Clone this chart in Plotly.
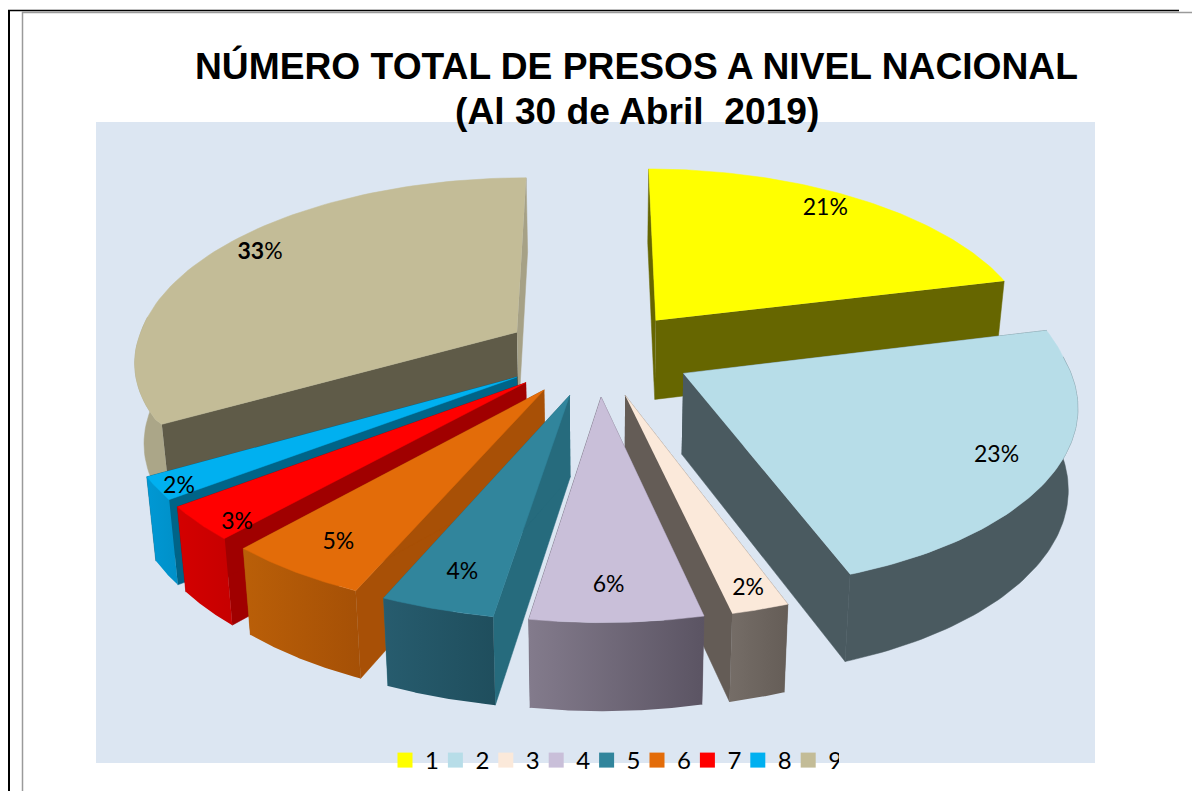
import numpy as np
import plotly.graph_objects as go

# --- data ---
CATEGORIES = ["1", "2", "3", "4", "5", "6", "7", "8", "9"]
PERCENTS = [21, 23, 2, 6, 4, 5, 3, 2, 33]
LABELS = ["21%", "23%", "2%", "6%", "4%", "5%", "3%", "2%", "<b>33</b>%"]
TOP_COLORS = ["#FFFF00", "#B7DDE8", "#FBE9DA", "#C9BFD9", "#31859C", "#E36C09", "#FF0000", "#00B0F0", "#C3BC97"]
WALL_START = ["#666600", "#4A5A60", "#645C56", "#5E5565", "#266B7D", "#A85006", "#A00000", "#006488", "#5F5B48"]
WALL_END = ["#666600", "#4A5A60", "#645C56", "#5E5565", "#266B7D", "#A85006", "#A00000", "#006488", "#A6A186"]
RIM_LEFT = ["#666600", "#4A5A60", "#756D67", "#837B8C", "#275C6E", "#BA5F08", "#D40000", "#0098D4", "#ABA688"]
RIM_RIGHT = ["#666600", "#4A5A60", "#655D57", "#5B5463", "#1F4E5D", "#A55006", "#C60000", "#0090C8", "#ABA688"]
LABEL_RADIUS = [0.90, 0.845, 0.916, 0.86, 0.85, 0.855, 0.935, 0.95, 0.90]
LABEL_ANGLE = [0.457, 0.524, 0.56, 0.55, 0.465, 0.456, 0.15, 0.30, 0.528]
TITLE_LINES = ["NÚMERO TOTAL DE PRESOS A NIVEL NACIONAL", "(Al 30 de Abril \u00a02019)"]

# --- projection of the tilted pie onto the page ---
CX, CY = 600.0, 353.0
RX, RY = 387.0, 177.0
PERSP = 0.15
EXPLODE = 0.24
DEPTH = 80.0
W, H = 1197, 791


def project(x, y):
    s = 1.0 / (1.0 + PERSP * y)
    return CX + RX * x * s, CY - RY * y * s, s


def drop(px, py, s):
    return CX + (px - CX) * 0.98, py + DEPTH * np.sqrt(s)


vals = np.array(PERCENTS, float)
edges = np.concatenate([[0], np.cumsum(vals)]) / vals.sum() * 2 * np.pi

fig = go.Figure()


def poly(xs, ys, color, gradient=None):
    kw = dict(fillcolor=color)
    if gradient and gradient[0] != gradient[1]:
        kw = dict(fillgradient=dict(type="horizontal", colorscale=[[0, gradient[0]], [1, gradient[1]]]))
    fig.add_trace(go.Scatter(x=list(xs), y=list(ys), mode="lines", fill="toself",
                             line=dict(width=0.5 if not gradient or gradient[0] == gradient[1] else 0, color=color),
                             hoverinfo="skip", showlegend=False, **kw))


order = sorted(range(len(vals)), key=lambda i: -np.cos((edges[i] + edges[i + 1]) / 2))
for i in order:
    a0, a1 = edges[i], edges[i + 1]
    b = (a0 + a1) / 2
    ax, ay = EXPLODE * np.sin(b), EXPLODE * np.cos(b)
    th = np.linspace(a0, a1, 80)
    px, py, ps = project(ax + np.sin(th), ay + np.cos(th))
    deg = np.degrees(th)
    # slight page distortion of the rim seen in the picture
    px = px - 6 * np.clip(np.sin(th), 0, 1) ** 0.3 * (0.5 + 0.5 * np.clip((deg - 75) / 10, 0, 1))
    px = px + 2.5 * ((deg > 190) & (deg < 240))
    px = px - 5 * np.clip(np.cos(th), 0, 1) * (deg > 180)
    py = py - 5.5 * np.clip(np.cos(th), 0, 1)
    dx, dy = drop(px, py, ps)
    apx, apy, aps = project(ax, ay)
    if np.sin(b) < 0.5:
        apx -= 4 * np.clip(0.5 - np.sin(b), 0.5, 1)
    adx, ady = drop(apx, apy, aps)
    # side walls
    poly([apx, px[0], dx[0], adx], [apy, py[0], dy[0], ady], WALL_START[i])
    poly([apx, px[-1], dx[-1], adx], [apy, py[-1], dy[-1], ady], WALL_END[i])
    # outer rim: only the part turned towards the viewer
    vis = np.cos(th) < 0.1
    if vis.any():
        poly(np.r_[px[vis], dx[vis][::-1]], np.r_[py[vis], dy[vis][::-1]], RIM_LEFT[i], (RIM_LEFT[i], RIM_RIGHT[i]))
    # top face
    poly(np.r_[apx, px], np.r_[apy, py], TOP_COLORS[i])

# data labels
lx, ly = [], []
for i in range(len(vals)):
    b = (edges[i] + edges[i + 1]) / 2
    t = edges[i] + (edges[i + 1] - edges[i]) * LABEL_ANGLE[i]
    x, y, _ = project(EXPLODE * np.sin(b) + LABEL_RADIUS[i] * np.sin(t),
                      EXPLODE * np.cos(b) + LABEL_RADIUS[i] * np.cos(t))
    lx.append(x)
    ly.append(y)
fig.add_trace(go.Scatter(x=lx, y=ly, mode="text", text=LABELS, textposition="middle center",
                         textfont=dict(family="Lato", size=23, color="#000000"),
                         hoverinfo="skip", showlegend=False))

# legend entries
for c, col in zip(CATEGORIES, TOP_COLORS):
    fig.add_trace(go.Scatter(x=[None], y=[None], mode="markers", name=c,
                             marker=dict(symbol="square", size=15, color=col)))

shapes = [
    dict(type="rect", x0=96, x1=1095, y0=122, y1=763, fillcolor="#DCE6F2", line_width=0, layer="below"),
    dict(type="line", x0=9, x1=9, y0=11, y1=791, line=dict(color="#000000", width=2), layer="below"),
    dict(type="line", x0=22.5, x1=22.5, y0=12, y1=791, line=dict(color="#9A9A9A", width=1.5), layer="below"),
    dict(type="line", x0=22, x1=1192, y0=12.5, y1=12.5, line=dict(color="#9A9A9A", width=1.5), layer="below"),
    dict(type="line", x0=8, x1=1179, y0=10.5, y1=10.5, line=dict(color="#000000", width=1.5), layer="below"),
]

annotations = [
    dict(text="<b>%s</b>" % line, x=636.5, y=y, xref="x", yref="y", showarrow=False,
         xanchor="center", yanchor="middle",
         font=dict(family="Liberation Sans", size=37.2, color="#000000"))
    for line, y in zip(TITLE_LINES, [66, 111])
]

fig.update_layout(
    width=W, height=H, autosize=False,
    margin=dict(l=0, r=0, t=0, b=0),
    paper_bgcolor="#FFFFFF", plot_bgcolor="#FFFFFF",
    xaxis=dict(range=[0, W], visible=False, fixedrange=True),
    yaxis=dict(range=[H, 0], visible=False, fixedrange=True),
    shapes=shapes,
    annotations=annotations,
    legend=dict(orientation="h", x=385 / W, y=1 - 738 / H, xanchor="left", yanchor="top",
                bgcolor="rgba(0,0,0,0)", borderwidth=0, entrywidth=5.4, entrywidthmode="pixels",
                font=dict(family="Lato", size=24, color="#000000"), itemclick=False, itemdoubleclick=False),
)
fig.write_html("out.html", config=dict(displayModeBar=False, responsive=False),
               post_script="document.body.style.margin='0';document.body.style.overflow='hidden';")
